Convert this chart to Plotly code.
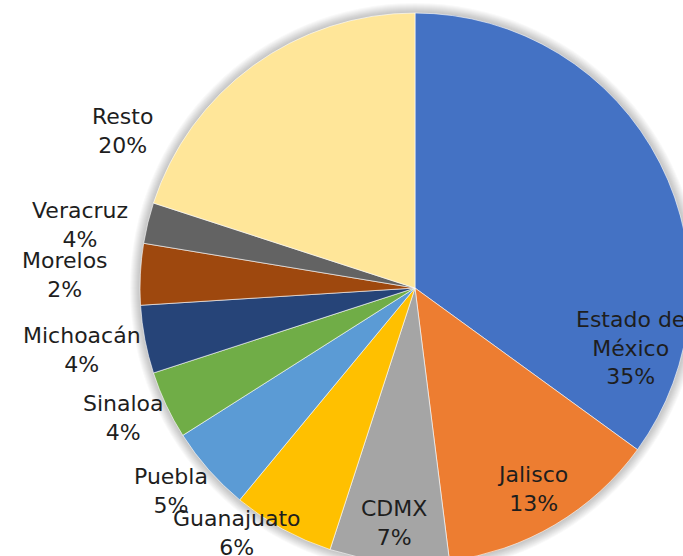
import plotly.graph_objects as go

# ---- data ----
states = ["Estado de México", "Jalisco", "CDMX", "Guanajuato", "Puebla",
          "Sinaloa", "Michoacán", "Veracruz", "Morelos", "Resto"]
shares = [35.0, 13.0, 7.0, 6.0, 5.0, 4.0, 4.0, 3.6, 2.4, 20.0]
label_names = ["Estado de<br>México", "Jalisco", "CDMX", "Guanajuato", "Puebla",
               "Sinaloa", "Michoacán", "Veracruz", "Morelos", "Resto"]

colors = ["#4472C4", "#ED7D31", "#A5A5A5", "#FFC000", "#5B9BD5",
          "#70AD47", "#264478", "#9E480E", "#636363", "#FFE699"]

# ---- layout geometry (pixels) ----
W, H = 700, 570
CX, CY, R = 415, 288, 275

# label centre positions in pixels (layout only)
label_pos = [(630, 348), (532, 489), (394, 523), (237, 533), (171, 491),
             (124, 418), (82, 350), (80, 225), (65, 275), (122, 131)]

total = sum(shares)

fig = go.Figure(go.Pie(
    labels=states,
    values=shares,
    sort=False,
    direction="clockwise",
    rotation=0,
    marker=dict(colors=colors, line=dict(color="white", width=0.6)),
    textinfo="none",
    hoverinfo="label+percent",
    showlegend=False,
    domain=dict(x=[(CX - R) / W, (CX + R) / W],
                y=[(H - CY - R) / H, (H - CY + R) / H]),
))

# soft shadow around the pie
shapes = []
for k in range(1, 11):
    rr = R + k
    shapes.append(dict(
        type="circle", layer="below",
        xref="paper", yref="paper",
        xsizemode="pixel", ysizemode="pixel",
        xanchor=CX / W, yanchor=1 - CY / H,
        x0=-rr, x1=rr, y0=-rr, y1=rr,
        fillcolor="rgba(0,0,0,0.025)", line=dict(width=0),
    ))

annotations = []
for name, v, (px, py) in zip(label_names, shares, label_pos):
    pct = round(v / total * 100)
    annotations.append(dict(
        text=f"{name}<br>{pct}%",
        x=px / W, y=1 - py / H, xref="paper", yref="paper",
        xanchor="center", yanchor="middle", align="center",
        showarrow=False,
        font=dict(family="DejaVu Sans", size=22, color="#1e1e1e"),
    ))

fig.update_layout(
    width=W, height=H,
    margin=dict(l=0, r=0, t=0, b=0),
    paper_bgcolor="white", plot_bgcolor="white",
    shapes=shapes,
    annotations=annotations,
)

fig.write_html(
    "out.html",
    config={"displayModeBar": False},
    post_script="document.body.style.margin='0';document.body.style.overflow='hidden';document.documentElement.style.overflow='hidden';",
)
